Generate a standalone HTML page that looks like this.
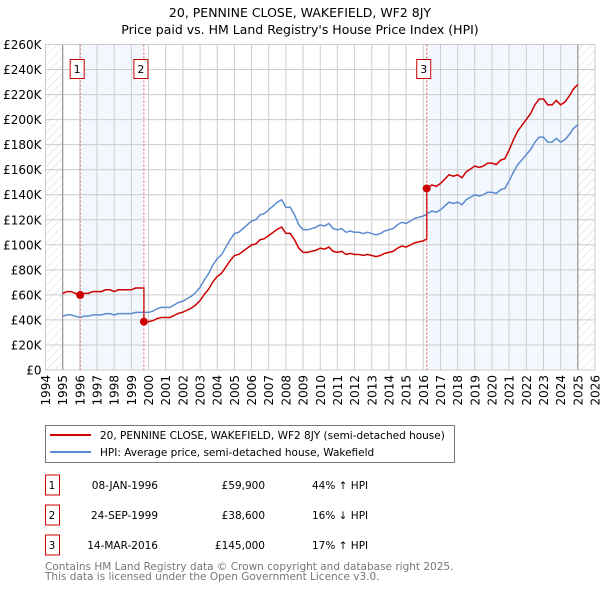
<!DOCTYPE html>
<html><head><meta charset="utf-8"><style>
body{margin:0;background:#fff;font-family:"DejaVu Sans","Liberation Sans",sans-serif;}
svg text{font-family:"DejaVu Sans","Liberation Sans",sans-serif;}
</style></head><body>
<svg id="chart" width="600" height="590" xmlns="http://www.w3.org/2000/svg">
<defs><pattern id="hatch" width="6" height="6" patternUnits="userSpaceOnUse" patternTransform="rotate(45)"><line x1="0" y1="0" x2="0" y2="6" stroke="#d8d8d8" stroke-width="1"/></pattern></defs>
<text x="300" y="17" text-anchor="middle" font-size="12.5">20, PENNINE CLOSE, WAKEFIELD, WF2 8JY</text>
<text x="300" y="34" text-anchor="middle" font-size="12.5">Price paid vs. HM Land Registry's House Price Index (HPI)</text>
<g id="plot"></g>
<g id="legend">
<rect x="45.5" y="425.5" width="409" height="37" fill="#fff" stroke="#777"/>
<line x1="50" y1="435" x2="91" y2="435" stroke="#cc0000" stroke-width="2"/>
<text x="100" y="439" font-size="10.5">20, PENNINE CLOSE, WAKEFIELD, WF2 8JY (semi-detached house)</text>
<line x1="50" y1="452" x2="91" y2="452" stroke="#5b8bd0" stroke-width="2"/>
<text x="100" y="456" font-size="10.5">HPI: Average price, semi-detached house, Wakefield</text>
</g>
<g id="table" font-size="10.5"></g>
<text x="45" y="570" font-size="10.5" fill="#777">Contains HM Land Registry data © Crown copyright and database right 2025.</text>
<text x="45" y="580" font-size="10.5" fill="#777">This data is licensed under the Open Government Licence v3.0.</text>
</svg>
<script>
const hpiStartYear = 1995;
const hpiValues = [43,44,44,43, 42,43,43,44, 44,44,45,45, 44,45,45,45, 45,46,46,46, 46,47,49,50, 50,50,52,54, 55,57,59,62, 66,72,77,84, 89,92,98,104, 109,110,113,116, 119,120,124,125, 128,131,134,136, 130,130,124,116, 112,112,113,114, 116,115,117,113, 112,113,110,111, 110,110,109,110, 109,108,109,111, 112,113,116,118, 117,119,121,122, 123,125,127,126, 128,131,134,133, 134,132,136,138, 140,139,140,142, 142,141,144,145, 151,158,164,168, 172,176,182,186, 186,182,182,185, 182,184,188,193, 196];
const saleLabels = ["1","2","3"];
const saleDates = ["08-JAN-1996","24-SEP-1999","14-MAR-2016"];
const saleYears = [1996.02,1999.73,2016.2];
const salePrices = [59900,38600,145000];
const salePriceText = ["£59,900","£38,600","£145,000"];
const saleHpiText = ["44% ↑ HPI","16% ↓ HPI","17% ↑ HPI"];
const yTicks = [0,20,40,60,80,100,120,140,160,180,200,220,240,260];
const xTicks = [1994,1995,1996,1997,1998,1999,2000,2001,2002,2003,2004,2005,2006,2007,2008,2009,2010,2011,2012,2013,2014,2015,2016,2017,2018,2019,2020,2021,2022,2023,2024,2025,2026];

const NS="http://www.w3.org/2000/svg";
const X0=45.5,X1=595,Y0=370,Y1=44.5,dataEnd=2025.0;
const xs=y=>X0+(y-1994)/(2026-1994)*(X1-X0);
const ys=v=>Y0-v/260*(Y0-Y1);
function mk(tag,attrs,parent){const e=document.createElementNS(NS,tag);for(const k in attrs)e.setAttribute(k,attrs[k]);parent.appendChild(e);return e;}
const plot=document.getElementById('plot');
mk('rect',{x:X0,y:Y1,width:X1-X0,height:Y0-Y1,fill:'#fff'},plot);
mk('rect',{x:X0,y:Y1,width:xs(1995)-X0,height:Y0-Y1,fill:'url(#hatch)'},plot);
mk('rect',{x:xs(dataEnd),y:Y1,width:X1-xs(dataEnd),height:Y0-Y1,fill:'url(#hatch)'},plot);
const sh1=mk('rect',{x:xs(saleYears[0]),y:Y1,width:xs(saleYears[1])-xs(saleYears[0]),height:Y0-Y1,fill:'#f3f7fe'},plot);


const sh2=mk('rect',{x:xs(saleYears[2]),y:Y1,width:xs(dataEnd)-xs(saleYears[2]),height:Y0-Y1,fill:'#f3f7fe'},plot);


yTicks.forEach(t=>{
 mk('line',{x1:X0,x2:X1,y1:ys(t),y2:ys(t),stroke:'#ccc','stroke-width':1},plot);
 const tx=mk('text',{x:X0-4,y:ys(t)+4.5,'text-anchor':'end','font-size':12},plot);
 tx.textContent=t===0?'£0':'£'+t+'K';
 
 
});
xTicks.forEach(t=>{
 mk('line',{x1:xs(t),x2:xs(t),y1:Y1,y2:Y0,stroke:'#ccc','stroke-width':1},plot);
 const tx=mk('text',{x:0,y:0,'text-anchor':'end','font-size':12,transform:`translate(${xs(t)+4.5},${Y0+5}) rotate(-90)`},plot);
 tx.textContent=t;
 
 
});
mk('line',{x1:xs(1995),x2:xs(1995),y1:Y1,y2:Y0,stroke:'#999','stroke-width':1.2},plot);
mk('line',{x1:xs(dataEnd),x2:xs(dataEnd),y1:Y1,y2:Y0,stroke:'#999','stroke-width':1.2},plot);
mk('rect',{x:X0,y:Y1,width:X1-X0,height:Y0-Y1,fill:'none',stroke:'#ccc'},plot);
const hY=i=>hpiStartYear+i/4;
function hpiAt(y){const f=(y-hpiStartYear)*4;const i=Math.max(0,Math.min(hpiValues.length-2,Math.floor(f)));const r=f-i;return hpiValues[i]*(1-r)+hpiValues[i+1]*r;}
const hp=mk('polyline',{points:hpiValues.map((v,i)=>xs(hY(i))+','+ys(v)).join(' '),fill:'none',stroke:'#5b8bd0','stroke-width':1.5},plot);


const pts=[];
function factorAt(y){let k=0;for(let j=0;j<saleYears.length;j++)if(y>=saleYears[j])k=j;return salePrices[k]/1000/hpiAt(saleYears[k]);}
hpiValues.forEach((v,i)=>{const y=hY(i);
 for(let j=0;j<saleYears.length;j++){const prev=y-0.25; if(saleYears[j]>prev&&saleYears[j]<=y&&i>0){const f0=j===0?salePrices[0]/1000/hpiAt(saleYears[0]):factorAt(saleYears[j]-0.001);pts.push([saleYears[j],hpiAt(saleYears[j])*f0]);pts.push([saleYears[j],salePrices[j]/1000]);}}
 pts.push([y,v*factorAt(y)]);});
const pp=mk('polyline',{points:pts.map(p=>xs(p[0])+','+ys(p[1])).join(' '),fill:'none',stroke:'#cc0000','stroke-width':1.5},plot);


saleYears.forEach((y,j)=>{
 const vl=mk('line',{x1:xs(y),x2:xs(y),y1:Y1,y2:Y0,stroke:'#e06060','stroke-width':1,'stroke-dasharray':'2,2'},plot);
 
 
 const c=mk('circle',{cx:xs(y),cy:ys(salePrices[j]/1000),r:4,fill:'#cc0000'},plot);
 
 
 const bx=xs(y)-3;
 const b=mk('rect',{x:bx-7,y:59.5,width:14,height:19,fill:'#fff',stroke:'#cc0000'},plot);
 
 
 const t=mk('text',{x:bx,y:73,'text-anchor':'middle','font-size':11},plot);
 t.textContent=saleLabels[j];
 
 
});
const tbl=document.getElementById('table');
saleLabels.forEach((l,j)=>{
 const cy=485+j*30;
 const b=mk('rect',{x:45.5,y:cy-10,width:14,height:20,fill:'#fff',stroke:'#cc0000'},tbl);
 
 
 const cells=[[52,l,'middle'],[158,saleDates[j],'end'],[265,salePriceText[j],'end'],[312,saleHpiText[j],'start']];
 cells.forEach((c,k)=>{const t=mk('text',{x:c[0],y:cy+4,'text-anchor':c[2]},tbl);t.textContent=c[1];
  
  });
});
</script>
</body></html>
